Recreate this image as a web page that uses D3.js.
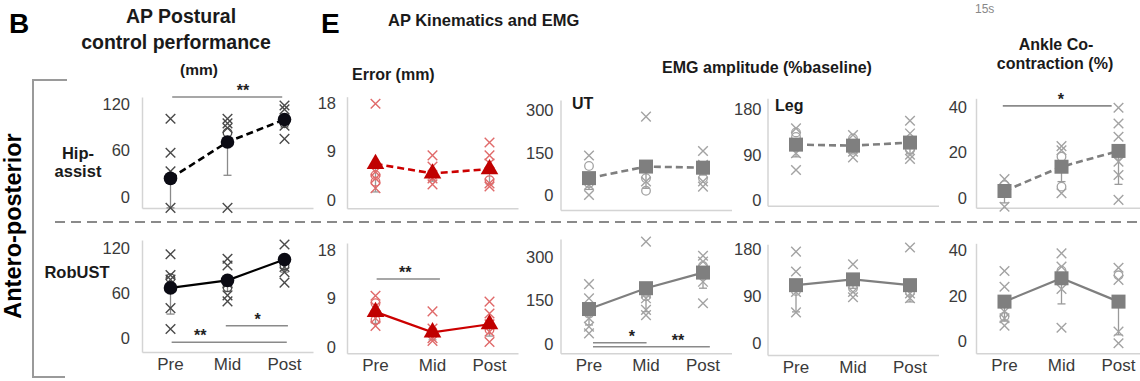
<!DOCTYPE html>
<html><head><meta charset="utf-8">
<script src="https://cdn.jsdelivr.net/npm/d3@7"></script>
<style>
body{margin:0;background:#fff}
svg{display:block;font-family:"Liberation Sans",Arial,sans-serif}
</style>
</head><body>
<svg id="c" width="1140" height="381"></svg>
<script>
// ---------------- DATA ----------------
const phases = ["Pre", "Mid", "Post"];
const rowNames = ["Hip-assist", "RobUST"];

// tick labels per panel
const bTicks = [0, 60, 120];
const errTicks = [0, 9, 18];
const utTicks = [0, 150, 300];
const legTicks = [0, 90, 180];
const ankTicks = [0, 20, 40];

// B: AP postural control performance (mm)
const bHipMean = [24, 71, 100];
const bHipErr = [-14, 28, 90];
const bHipX = [[101, 57, 33, -14], [101, 95, 89, -14], [118, 113, 92, 75]];
const bHipO = [[], [83], [95]];
const bRobMean = [67, 77, 105];
const bRobErr = [32, 62, 88];
const bRobX = [[112, 84, 78, 40, 12], [106, 97, 73, 57, 49], [125, 95, 88, 74]];
const bRobO = [[80], [68], [97]];

// E: Error (mm)
const errHipMean = [6.7, 4.95, 5.75];
const errHipErr = [1.5, 3.5, 3.0];
const errHipX = [[17.9, 5.25, 4.0, 2.2], [8.3, 6.2, 4.0, 2.9], [10.7, 8.3, 6.8, 3.1, 2.5]];
const errHipO = [[4.6, 3.4], [4.5], [3.7]];
const errRobMean = [6.5, 2.7, 4.2];
const errRobErr = [4.35, 1.3, 2.0];
const errRobX = [[9.5, 7.5, 5.3, 3.9], [6.6, 3.4, 1.6, 1.1], [8.4, 6.2, 4.2, 2.8, 0.9]];
const errRobO = [[8.1, 5.0], [3.0], [3.2]];

// E: EMG amplitude UT (%baseline)
const utHipMean = [60, 101, 97];
const utHipErr = [20, 24, 71];
const utHipX = [[140, 36, 0], [278, 48], [156, 107, 48, 30]];
const utHipO = [[103, 42], [60, 15], [60]];
const utRobMean = [121, 193, 247];
const utRobErr = [66, 112, 193];
const utRobX = [[207, 158, 89, 60, 37], [354, 175, 158, 118, 100], [305, 285, 215, 141]];
const utRobO = [[105], [165], [270]];

// E: EMG amplitude Leg (%baseline)
const legHipMean = [110, 108, 114];
const legHipErr = [86, 96, 92];
const legHipX = [[142, 93, 60], [129, 85, 96], [157, 132, 90, 82]];
const legHipO = [[134, 125], [122, 100], [100]];
const legRobMean = [111, 122, 111];
const legRobErr = [60, 105, 79];
const legRobX = [[175, 137, 98, 59], [151, 98, 88], [183, 95, 86]];
const legRobO = [[100], [105], [98]];

// E: Ankle co-contraction (%)
const ankHipMean = [3.2, 13.8, 20.7];
const ankHipErr = [-2, 7.3, 6.1];
const ankHipX = [[8.4, -3.7], [22.8, 21, 2.2], [39.6, 32.7, 26.9, 16, 10.2, -0.7]];
const ankHipO = [[5.8], [18.2, 5.1], [18.9]];
const ankRobMean = [17.5, 27.7, 17.5];
const ankRobErr = [9, 16.5, 3];
const ankRobX = [[30.9, 24, 13.1, 10.2, 7], [38.6, 32.8, 23, 6.1], [32.3, 27, 4.4, -0.7]];
const ankRobO = [[11], [31], [29]];

// significance bars: panel, row, from/to (category index), level (data units), label, label position
const sigPanel = ["b", "b", "b", "err", "ut", "ut", "ank"];
const sigRow = [0, 1, 1, 1, 1, 1, 0];
const sigFrom = [0.03, 0.02, 0.97, 0.02, 0.07, 0.07, -0.03];
const sigTo = [1.96, 2.04, 2.06, 1.13, 1.01, 2.12, 1.88];
const sigLevel = [129, -5.7, 16.4, 12.6, 4.3, -9.5, 40.4];
const sigLabel = ["**", "**", "*", "**", "*", "**", "*"];
const sigLabelAt = [1.27, 0.52, 1.53, 0.52, 0.75, 1.56, 0.99];

// ---------------- LAYOUT ----------------
const svg = d3.select("#c");
const BW = 171; // category axis length
const panels = [
  {key: "b", x0: 142, ticks: bTicks, pad: 12, mk: "circle", line: "#000", fill: "#0b0b14", cross: "#4a4a4a", ebar: "#8a8a8a",
   rows: [{m: bHipMean, e: bHipErr, xs: bHipX, os: bHipO, dom: [-14.2, 129], rng: [208, 97]},
          {m: bRobMean, e: bRobErr, xs: bRobX, os: bRobO, dom: [-18.7, 131], rng: [352, 240]}]},
  {key: "err", x0: 347, ticks: errTicks, pad: 11, mk: "tri", line: "#cc0000", fill: "#c00000", cross: "#e06a6a", ebar: "#9a9a9a",
   rows: [{m: errHipMean, e: errHipErr, xs: errHipX, os: errHipO, dom: [-1.54, 19.2], rng: [208.3, 96.7]},
          {m: errRobMean, e: errRobErr, xs: errRobX, os: errRobO, dom: [-1.2, 19.3], rng: [353.3, 243]}]},
  {key: "ut", x0: 560.5, ticks: utTicks, pad: 7, mk: "sq", line: "#7f7f7f", fill: "#7f7f7f", cross: "#a3a3a3", ebar: "#9a9a9a",
   rows: [{m: utHipMean, e: utHipErr, xs: utHipX, os: utHipO, dom: [-53, 337], rng: [210, 100]},
          {m: utRobMean, e: utRobErr, xs: utRobX, os: utRobO, dom: [-32, 363], rng: [353.3, 239]}]},
  {key: "leg", x0: 767.5, ticks: legTicks, pad: 6, mk: "sq", line: "#7f7f7f", fill: "#7f7f7f", cross: "#a3a3a3", ebar: "#9a9a9a",
   rows: [{m: legHipMean, e: legHipErr, xs: legHipX, os: legHipO, dom: [-10, 201], rng: [205.7, 98.3]},
          {m: legRobMean, e: legRobErr, xs: legRobX, os: legRobO, dom: [-22.3, 189], rng: [355, 244.3]}]},
  {key: "ank", x0: 976, ticks: ankTicks, pad: 9, mk: "sq", line: "#7f7f7f", fill: "#7f7f7f", cross: "#a3a3a3", ebar: "#9a9a9a",
   rows: [{m: ankHipMean, e: ankHipErr, xs: ankHipX, os: ankHipO, dom: [-4.1, 43.7], rng: [207.7, 98.3]},
          {m: ankRobMean, e: ankRobErr, xs: ankRobX, os: ankRobO, dom: [-5.1, 43], rng: [353.3, 243.3]}]}
];

function crossPath(cx, cy, s) {
  return `M${cx - s},${cy - s}L${cx + s},${cy + s}M${cx - s},${cy + s}L${cx + s},${cy - s}`;
}

// separator + bracket
svg.append("line").attr("x1", 55).attr("x2", 1140).attr("y1", 222).attr("y2", 222)
  .attr("stroke", "#8a8a8a").attr("stroke-width", 2).attr("stroke-dasharray", "10,6");
svg.append("path").attr("d", "M67,80H33V377H65").attr("fill", "none")
  .attr("stroke", "#9a9a9a").attr("stroke-width", 2);

panels.forEach(p => {
  const band = d3.scaleBand().domain(phases).range([p.x0, p.x0 + BW]);
  const xi = d3.scaleLinear().domain([-0.5, 2.5]).range([p.x0, p.x0 + BW]);
  p.rows.forEach((r, ri) => {
    const y = d3.scaleLinear().domain(r.dom).range(r.rng);
    r.y = y; r.xi = xi;
    const g = svg.append("g");
    // axes
    const ya = g.append("g").attr("transform", `translate(${p.x0},0)`)
      .call(d3.axisLeft(y).tickValues(p.ticks).tickSize(0).tickSizeOuter(0).tickPadding(p.pad));
    ya.select(".domain").attr("stroke", "#d4d4d4").attr("stroke-width", 1.5);
    ya.selectAll("text").attr("font-size", 16.5).attr("fill", "#3a3a3a").attr("font-family", "Liberation Sans, Arial, sans-serif");
    const xa = g.append("g").attr("transform", `translate(0,${r.rng[0]})`)
      .call(d3.axisBottom(band).tickSize(0).tickSizeOuter(0).tickPadding(6)
        .tickFormat(ri === 1 ? (d => d) : (() => "")));
    xa.select(".domain").attr("stroke", "#d4d4d4").attr("stroke-width", 1.5);
    xa.selectAll("text").attr("font-size", 17).attr("fill", "#3a3a3a").attr("font-family", "Liberation Sans, Arial, sans-serif");

    const cx = i => band(phases[i]) + band.bandwidth() / 2;
    // error bars
    r.m.forEach((m, i) => {
      g.append("line").attr("x1", cx(i)).attr("x2", cx(i)).attr("y1", y(m)).attr("y2", y(r.e[i]))
        .attr("stroke", p.ebar).attr("stroke-width", 1.3);
      g.append("line").attr("x1", cx(i) - 4).attr("x2", cx(i) + 4).attr("y1", y(r.e[i])).attr("y2", y(r.e[i]))
        .attr("stroke", p.ebar).attr("stroke-width", 1.3);
    });
    // individual points
    r.xs.forEach((arr, i) => arr.forEach(v => {
      g.append("path").attr("d", crossPath(cx(i), y(v), 4.8)).attr("stroke", p.cross)
        .attr("stroke-width", 1.4).attr("fill", "none");
    }));
    r.os.forEach((arr, i) => arr.forEach(v => {
      g.append("circle").attr("cx", cx(i)).attr("cy", y(v)).attr("r", 4.3).attr("fill", "none")
        .attr("stroke", p.cross).attr("stroke-width", 1.3);
    }));
    // mean line
    g.append("path").datum(r.m)
      .attr("d", d3.line().x((d, i) => cx(i)).y(d => y(d)))
      .attr("fill", "none").attr("stroke", p.line).attr("stroke-width", ri === 0 ? 2.6 : 2.2)
      .attr("stroke-dasharray", ri === 0 ? "7,4" : null);
    // mean markers
    r.m.forEach((m, i) => {
      if (p.mk === "circle") {
        g.append("circle").attr("cx", cx(i)).attr("cy", y(m)).attr("r", 6.8).attr("fill", p.fill);
      } else if (p.mk === "sq") {
        g.append("rect").attr("x", cx(i) - 7).attr("y", y(m) - 7).attr("width", 14).attr("height", 14).attr("fill", p.fill);
      } else {
        g.append("path").attr("transform", `translate(${cx(i)},${y(m)})`)
          .attr("d", d3.symbol().type(d3.symbolTriangle).size(135)()).attr("fill", p.fill);
      }
    });
  });
});

// significance bars
sigPanel.forEach((k, j) => {
  const p = panels.find(q => q.key === k);
  const r = p.rows[sigRow[j]];
  const yy = r.y(sigLevel[j]);
  svg.append("line").attr("x1", r.xi(sigFrom[j])).attr("x2", r.xi(sigTo[j])).attr("y1", yy).attr("y2", yy)
    .attr("stroke", "#8a8a8a").attr("stroke-width", 1.6);
  svg.append("text").attr("x", r.xi(sigLabelAt[j])).attr("y", yy - 1).attr("text-anchor", "middle")
    .attr("font-size", 16).attr("font-weight", "bold").attr("fill", "#222").text(sigLabel[j]);
});

// texts
function txt(x, y, s, size, opts = {}) {
  const t = svg.append("text").attr("x", x).attr("y", y).attr("font-size", size)
    .attr("font-weight", opts.w || "bold").attr("fill", opts.c || "#1a1a1a")
    .attr("text-anchor", opts.a || "start").text(s);
  return t;
}
txt(9, 33, "B", 28, {c: "#000"});
txt(321, 33, "E", 28, {c: "#000"});
txt(181, 23, "AP Postural", 19.5, {a: "middle"});
txt(176, 49, "control performance", 19.5, {a: "middle"});
txt(199, 75, "(mm)", 15.5, {a: "middle"});
txt(78, 159, "Hip-", 16.5, {a: "middle"});
txt(78, 177, "assist", 16.5, {a: "middle"});
txt(77, 278, rowNames[1], 16.5, {a: "middle"});
txt(388, 26, "AP Kinematics and EMG", 16.5);
txt(352, 80, "Error (mm)", 16);
txt(767, 73, "EMG amplitude (%baseline)", 16, {a: "middle"});
txt(572, 109, "UT", 16);
txt(775, 111, "Leg", 16);
txt(1056, 50, "Ankle Co-", 16, {a: "middle"});
txt(1055, 69, "contraction (%)", 16, {a: "middle"});
txt(975, 13, "15s", 12, {w: "normal", c: "#888"});
svg.append("text").attr("transform", "translate(21,226) rotate(-90)").attr("text-anchor", "middle")
  .attr("font-size", 23.5).attr("font-weight", "bold").attr("fill", "#000").text("Antero-posterior");
</script>
</body></html>
